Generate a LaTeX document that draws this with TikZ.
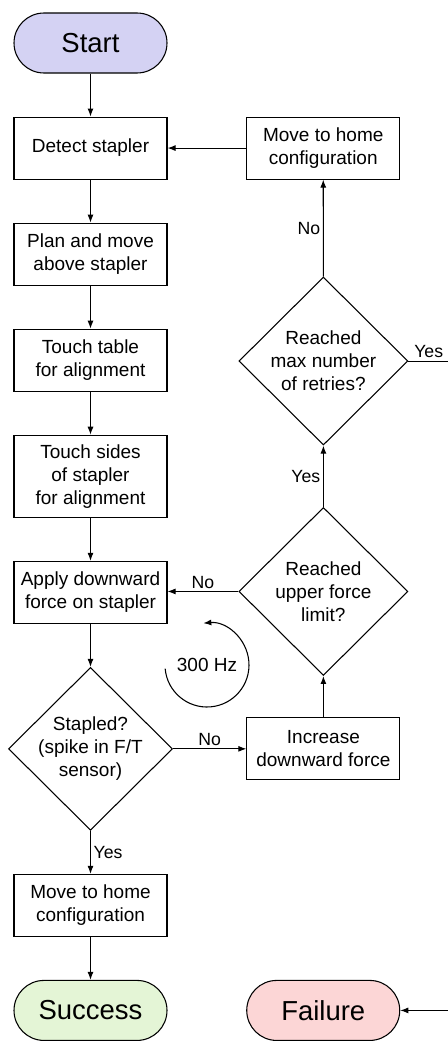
\documentclass[tikz,border=0pt]{standalone}
\usepackage{fontspec}
\setmainfont{Liberation Sans}
\usetikzlibrary{positioning,arrows.meta,shapes.geometric}
\definecolor{startfill}{RGB}{212,210,243}
\definecolor{successfill}{RGB}{228,245,214}
\definecolor{failfill}{RGB}{252,214,214}
\begin{document}
\begin{tikzpicture}[x=0.75pt,y=-0.75pt,
			>={Latex[length=6pt,width=4.5pt]},
			node distance=32.25pt,
			line width=0.8pt,
			box/.style={
				draw,
				minimum width=114.75pt,
				minimum height=46.5pt,
				align=center,
				font=\fontsize{14.25}{17.25}\selectfont
			},
			decision/.style={
				draw,
				diamond,
				inner sep=-1pt,
				minimum width=126.75pt,
				minimum height=126pt,
				align=center,
				font=\fontsize{14.25}{17.25}\selectfont
			},
			terminal/.style={
				draw,
				rounded corners=22.5pt,
				minimum width=114.75pt,
				minimum height=45pt,
				font=\fontsize{20.6}{24}\selectfont
			},
			lbl/.style={inner sep=2pt, font=\fontsize{13.25}{15}\selectfont}]
			
			\useasboundingbox (0,0) rectangle (447,1042);
			
			\node[terminal, fill=startfill] (start) at (90.5,43) {Start};
			
			\node[box] (detect)[below=of start]{Detect stapler};
			
			\node[box] (plan)[below=of detect]{Plan and move\\above stapler};
			
			\node[box] (table)[below=of plan]{Touch table\\for alignment};
			
			\node[box, minimum height=61.5pt] (sides)[below=of table]{Touch sides\\of stapler\\for alignment};
			
			\node[box] (apply)[below=of sides]{Apply downward\\force on stapler};
			
			\node[decision, minimum width=123pt, minimum height=121.5pt] (stapled)[below=of apply]{Stapled?\\(spike in F/T\\sensor)};
			
			\node[box] (homeL)[below=of stapled]{Move to home\\configuration};
			
			\node[terminal, fill=successfill] (success)[below=of homeL]{Success};
			
			\node[box] (homeR)[right=59pt of detect]{Move to home\\configuration};
			
			\node[box] (increase)[right=55pt of stapled]{Increase\\downward force};
			
			\node[decision] (upper)[above=31pt of increase]{Reached\\upper force\\limit?};
			
			\node[decision] (maxtry)[above=46pt of upper]{Reached\\max number\\of retries?};
			
			\node[terminal, fill=failfill] (failure)[right=59pt of success]{Failure};
			
			\node[inner sep=0pt, font=\fontsize{14.25}{17.25}\selectfont] (hz) at (207,665) {300 Hz};
			
			\coordinate (edge) at (480,0);
			
			\draw[->](start)--(detect);
			
			\draw[->](detect)--(plan);
			
			\draw[->](plan)--(table);
			
			\draw[->](table)--(sides);
			
			\draw[->](sides)--(apply);
			
			\draw[->](apply)--(stapled);
			
			\draw[->](stapled)--node[lbl, right]{Yes}(homeL);
			
			\draw[->](homeL)--(success);
			
			\draw[->](stapled)--node[lbl, above]{No}(increase);
			
			\draw[->](increase)--(upper);
			
			\draw[->](upper.west)--node[lbl, above]{No}(upper.west -| apply.east);
			
			\draw[->](upper)--node[lbl, left]{Yes}(maxtry);
			
			\draw[->](maxtry)--node[lbl, left]{No}(homeR);
			
			\draw[->](homeR)--(detect);
			
			\draw[->](maxtry.east) node[lbl, above right, xshift=2pt]{Yes}
				--(maxtry.east -| edge)--(edge |- failure)--(failure);
			
			\draw[->](hz.center) ++(185:31.5pt) arc[start angle=185, end angle=455, radius=31.5pt];
			
		\end{tikzpicture}
\end{document}
